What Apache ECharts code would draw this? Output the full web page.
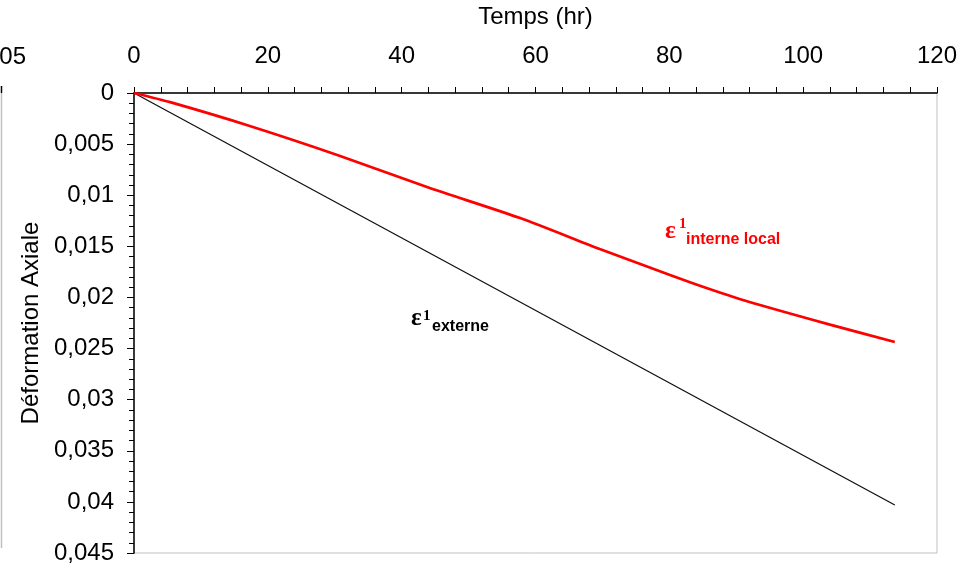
<!DOCTYPE html>
<html>
<head>
<meta charset="utf-8">
<script src="https://cdn.jsdelivr.net/npm/echarts@6/dist/echarts.min.js"></script>
<style>
  html, body { margin: 0; padding: 0; background: #fff; }
  #main { width: 974px; height: 572px; }
</style>
</head>
<body>
<div id="main"></div>
<script>
// temps (hr) et déformation axiale
const tempsExterne = [0, 57, 113.7]
const defExterne = [0, 0.0202, 0.0403]

const tempsInterne = [0, 5.4, 17.3, 30.8, 44.2, 57.7, 69.6, 80.1, 85, 91.5, 104, 113.7]
const defInterne = [0, 0.0009, 0.00323, 0.00616, 0.00929, 0.01223, 0.01526, 0.0178, 0.01895, 0.02035, 0.02266, 0.02436]

const xTicks = { min: 0, max: 120, step: 20 }
const yTicks = { min: 0, max: 0.045, step: 0.005 }

const font = '"Liberation Sans", Arial, sans-serif'
const serif = '"Liberation Serif", "Times New Roman", serif'

function paires(xs, ys) {
  return xs.map((x, i) => [x, ys[i]])
}

var myChart = echarts.init(document.getElementById('main'))
myChart.setOption({
  animation: false,
  backgroundColor: '#fff',
  grid: {
    left: 134, right: 37, top: 93, bottom: 19,
    show: true, borderColor: '#c0c0c0', borderWidth: 1
  },
  xAxis: {
    type: 'value',
    position: 'top',
    min: xTicks.min, max: xTicks.max, interval: xTicks.step,
    name: 'Temps (hr)',
    nameLocation: 'middle',
    nameGap: 64,
    nameTextStyle: { fontFamily: font, fontSize: 24, color: '#000' },
    axisLine: { show: true, onZero: false, lineStyle: { color: '#000', width: 1.5 } },
    axisTick: { show: true, inside: false, length: 6, lineStyle: { color: '#000' } },
    minorTick: { show: true, splitNumber: 5, length: 6, lineStyle: { color: '#000' } },
    axisLabel: { fontFamily: font, fontSize: 24, color: '#000', margin: 25 },
    splitLine: { show: false }
  },
  yAxis: {
    type: 'value',
    inverse: true,
    min: yTicks.min, max: yTicks.max, interval: yTicks.step,
    name: 'Déformation Axiale',
    nameLocation: 'middle',
    nameGap: 90,
    nameTextStyle: { fontFamily: font, fontSize: 24, color: '#000' },
    axisLine: { show: true, onZero: false, lineStyle: { color: '#000', width: 1.5 } },
    axisTick: { show: true, inside: false, length: 7, lineStyle: { color: '#000' } },
    minorTick: { show: true, splitNumber: 5, length: 5, lineStyle: { color: '#000' } },
    axisLabel: {
      fontFamily: font, fontSize: 24, color: '#000', margin: 20,
      formatter: v => String(+v.toFixed(3)).replace('.', ',')
    },
    splitLine: { show: false }
  },
  series: [
    {
      name: 'externe',
      type: 'line',
      data: paires(tempsExterne, defExterne),
      showSymbol: false,
      lineStyle: { color: '#111', width: 1.3 }
    },
    {
      name: 'interne local',
      type: 'line',
      smooth: 0.25,
      data: paires(tempsInterne, defInterne),
      showSymbol: false,
      lineStyle: { color: '#ff0000', width: 2.8 }
    }
  ],
  graphic: [
    // reste d'un autre graphique coupé à gauche
    { type: 'text', x: 26, y: 57, style: { text: '05', font: '24px ' + font, fill: '#000', textAlign: 'right', textVerticalAlign: 'middle' } },
    { type: 'line', shape: { x1: 1.5, y1: 93, x2: 1.5, y2: 548 }, style: { stroke: '#c0c0c0', lineWidth: 1.5 } },
    { type: 'line', shape: { x1: 1.5, y1: 86, x2: 1.5, y2: 93 }, style: { stroke: '#000', lineWidth: 1.5 } },
    // étiquettes des courbes
    { type: 'text', x: 411, y: 319, style: { text: 'ε', font: 'bold 25px ' + serif, fill: '#000', textVerticalAlign: 'middle' } },
    { type: 'text', x: 423, y: 316, style: { text: '1', font: 'bold 15px ' + serif, fill: '#000', textVerticalAlign: 'middle' } },
    { type: 'text', x: 432, y: 327, style: { text: 'externe', font: 'bold 16px ' + font, fill: '#000', textVerticalAlign: 'middle' } },
    { type: 'text', x: 665, y: 232, style: { text: 'ε', font: 'bold 25px ' + serif, fill: '#ff0000', textVerticalAlign: 'middle' } },
    { type: 'text', x: 679, y: 224, style: { text: '1', font: 'bold 15px ' + serif, fill: '#ff0000', textVerticalAlign: 'middle' } },
    { type: 'text', x: 686, y: 240, style: { text: 'interne local', font: 'bold 16px ' + font, fill: '#ff0000', textVerticalAlign: 'middle' } }
  ]
})
</script>
</body>
</html>
